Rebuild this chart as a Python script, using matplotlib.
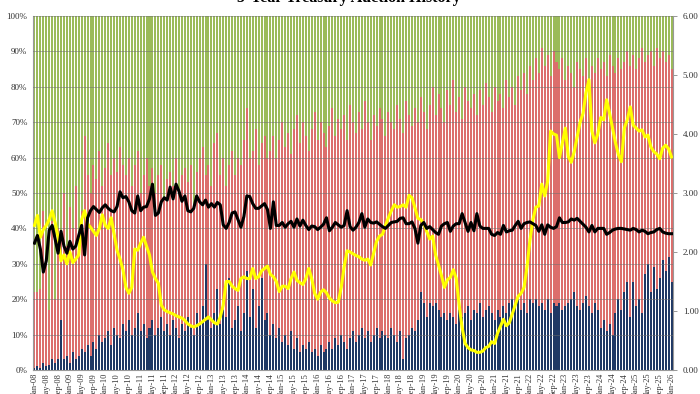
import numpy as np
import matplotlib
matplotlib.use("Agg")
import matplotlib.pyplot as plt

# monthly 5y auctions, Jan-08 onwards
tick_labels = [
    "Jan-08", "May-08", "Sep-08", "Jan-09", "May-09", "Sep-09",
    "Jan-10", "May-10", "Sep-10", "Jan-11", "May-11", "Sep-11",
    "Jan-12", "May-12", "Sep-12", "Jan-13", "May-13", "Sep-13",
    "Jan-14", "May-14", "Sep-14", "Jan-15", "May-15", "Sep-15",
    "Jan-16", "May-16", "Sep-16", "Jan-17", "May-17", "Sep-17",
    "Jan-18", "May-18", "Sep-18", "Jan-19", "May-19", "Sep-19",
    "Jan-20", "May-20", "Sep-20", "Jan-21", "May-21", "Sep-21",
    "Jan-22", "May-22", "Sep-22", "Jan-23", "May-23", "Sep-23",
    "Jan-24", "May-24", "Sep-24", "Jan-25", "May-25", "Sep-25",
    "Jan-26",
]

# % awarded to direct bidders
direct = [
    0.5, 1, 0.5, 2, 1, 1.5, 3, 2, 3, 14,
    3, 4, 2, 5, 3, 4, 6, 5, 7, 4,
    8, 6, 10, 8, 9, 11, 7, 12, 10, 9,
    13, 11, 14, 10, 12, 16, 11, 13, 9, 12,
    14, 10, 12, 15, 11, 13, 10, 14, 12, 9,
    13, 11, 15, 12, 10, 16, 13, 18, 30, 14,
    12, 16, 23, 13, 17, 15, 26, 12, 14, 18,
    11, 16, 28, 15, 23, 12, 18, 26, 14, 16,
    10, 13, 9, 12, 8, 10, 7, 11, 6, 9,
    5, 7, 6, 8, 5, 6, 4, 7, 5, 6,
    8, 6, 9, 7, 10, 8, 6, 9, 11, 8,
    10, 12, 9, 11, 8, 10, 12, 9, 11, 10,
    9, 12, 10, 8, 11, 3, 9, 10, 12, 11,
    14, 22, 19, 15, 19, 18, 19, 17, 15, 16,
    14, 16, 15, 13, 17, 15, 16, 18, 14, 17,
    16, 19, 15, 17, 18, 16, 14, 17, 15, 18,
    16, 19, 20, 18, 20, 17, 19, 16, 20, 19,
    20, 18, 19, 17, 20, 16, 19, 18, 19, 17,
    18, 19, 20, 22, 18, 17, 19, 21, 18, 16,
    19, 17, 12, 14, 11, 13, 10, 16, 20, 17,
    22, 25, 15, 25, 18, 20, 16, 27, 30, 22,
    29, 23, 26, 31, 28, 32, 25,
]

# direct + indirect (top of the red stack), %
direct_plus_indirect = [
    22, 22, 23, 45, 30, 17, 42, 20, 40, 38,
    50, 35, 46, 40, 52, 38, 45, 66, 55, 50,
    58, 54, 62, 52, 57, 64, 55, 60, 56, 63,
    58, 55, 60, 52, 58, 62, 50, 55, 60, 52,
    57, 50, 55, 58, 48, 54, 56, 52, 60, 50,
    55, 57, 53, 58, 46, 56, 60, 63, 55, 58,
    52, 64, 67, 55, 60, 52, 58, 62, 55, 60,
    58, 65, 74, 60, 62, 68, 58, 64, 66, 60,
    62, 66, 60, 65, 70, 63, 67, 61, 68, 72,
    64, 70, 66, 62, 68, 73, 65, 70, 67, 63,
    69, 74, 66, 71, 68, 72, 65, 75, 70, 67,
    73, 68, 76, 70, 65, 72, 69, 74, 71, 66,
    73, 70, 68, 75, 71, 67, 76, 72, 69, 74,
    70, 77, 73, 68, 75, 80, 72, 78, 74, 70,
    79, 75, 82, 73, 77, 71, 80, 76, 74, 78,
    72, 79, 75, 81, 77, 73, 80, 76, 78, 74,
    82, 77, 80, 75, 83, 79, 84, 78, 86, 82,
    88, 84, 91, 86, 89, 83, 90, 87, 85, 88,
    82, 86, 84, 80, 87, 85, 83, 88, 81, 86,
    84, 88, 85, 87, 83, 89, 86, 84, 88, 85,
    87, 90, 86, 89, 85, 88, 91, 87, 89, 90,
    86, 91, 88, 90, 87, 89, 85,
]

# high yield, %
high_yield = [
    2.45, 2.62, 2.25, 2.38, 2.45, 2.55, 2.70, 2.50, 2.25, 1.85,
    1.95, 1.80, 2.00, 1.82, 1.88, 1.95, 2.55, 2.70, 2.48, 2.42,
    2.35, 2.28, 2.40, 2.63, 2.45, 2.40, 2.58, 2.30, 2.03, 1.88,
    1.70, 1.40, 1.30, 1.40, 2.05, 2.03, 2.15, 2.25, 2.10, 1.95,
    1.66, 1.55, 1.47, 1.10, 1.02, 0.99, 0.97, 0.95, 0.92, 0.90,
    0.88, 0.84, 0.78, 0.75, 0.73, 0.75, 0.78, 0.82, 0.86, 0.90,
    0.85, 0.80, 0.78, 0.90, 1.10, 1.50, 1.50, 1.42, 1.38, 1.35,
    1.55, 1.58, 1.55, 1.55, 1.72, 1.55, 1.58, 1.68, 1.72, 1.76,
    1.62, 1.58, 1.50, 1.33, 1.42, 1.42, 1.38, 1.55, 1.66, 1.52,
    1.48, 1.45, 1.55, 1.72, 1.55, 1.30, 1.20, 1.32, 1.36, 1.31,
    1.22, 1.17, 1.14, 1.15, 1.40, 1.75, 2.02, 2.00, 1.97, 1.94,
    1.92, 1.88, 1.86, 1.88, 1.78, 1.98, 2.18, 2.27, 2.30, 2.45,
    2.58, 2.70, 2.80, 2.76, 2.77, 2.80, 2.76, 2.96, 2.92, 2.75,
    2.57, 2.55, 2.48, 2.35, 2.22, 2.27, 1.95, 1.78, 1.60, 1.40,
    1.53, 1.57, 1.70, 1.55, 1.10, 0.72, 0.45, 0.38, 0.34, 0.33,
    0.30, 0.30, 0.32, 0.38, 0.40, 0.48, 0.45, 0.62, 0.74, 0.86,
    0.75, 0.80, 0.95, 1.10, 1.25, 1.30, 1.40, 1.75, 2.20, 2.55,
    2.76, 2.78, 3.15, 2.95, 3.20, 4.05, 4.00, 3.98, 3.60, 3.85,
    4.10, 3.62, 3.52, 3.70, 3.95, 4.20, 4.35, 4.70, 4.92, 4.05,
    3.85, 4.00, 4.28, 4.24, 4.58, 4.35, 4.10, 3.85, 3.65, 3.53,
    4.10, 4.24, 4.46, 4.15, 4.10, 4.05, 4.07, 3.95, 3.98, 3.78,
    3.70, 3.66, 3.58, 3.76, 3.81, 3.75, 3.61,
]

# bid to cover
bid_to_cover = [
    2.15, 2.28, 2.05, 1.66, 1.85, 2.37, 2.45, 2.22, 1.98, 2.35,
    2.10, 1.98, 2.18, 2.05, 2.10, 2.28, 2.45, 1.95, 2.58, 2.70,
    2.77, 2.72, 2.67, 2.75, 2.80, 2.74, 2.70, 2.68, 2.77, 3.02,
    2.92, 2.94, 2.85, 2.70, 2.66, 2.95, 2.70, 2.76, 2.77, 2.90,
    3.15, 2.62, 2.66, 2.85, 2.92, 2.88, 3.10, 2.90, 3.15, 3.03,
    2.86, 2.95, 2.70, 2.68, 2.74, 2.95, 2.85, 2.80, 2.88, 2.76,
    2.82, 2.76, 2.84, 2.80, 2.46, 2.40, 2.50, 2.66, 2.68, 2.55,
    2.42, 2.60, 2.95, 2.94, 2.82, 2.74, 2.74, 2.78, 2.82, 2.72,
    2.40, 2.85, 2.45, 2.45, 2.50, 2.42, 2.48, 2.52, 2.42, 2.56,
    2.44, 2.54, 2.45, 2.38, 2.44, 2.43, 2.38, 2.42, 2.47, 2.58,
    2.36, 2.42, 2.50, 2.46, 2.42, 2.45, 2.70, 2.43, 2.37, 2.42,
    2.50, 2.65, 2.42, 2.56, 2.50, 2.49, 2.51, 2.47, 2.43, 2.40,
    2.45, 2.50, 2.51, 2.52, 2.57, 2.58, 2.48, 2.48, 2.51, 2.40,
    2.15, 2.45, 2.50, 2.40, 2.43, 2.38, 2.33, 2.30, 2.44, 2.48,
    2.50, 2.35, 2.44, 2.48, 2.48, 2.65, 2.50, 2.35, 2.50, 2.36,
    2.65, 2.44, 2.40, 2.40, 2.40, 2.30, 2.28, 2.33, 2.30, 2.45,
    2.34, 2.36, 2.37, 2.45, 2.52, 2.40, 2.48, 2.50, 2.51, 2.48,
    2.45, 2.35, 2.46, 2.30, 2.46, 2.42, 2.40, 2.43, 2.58, 2.50,
    2.50, 2.51, 2.56, 2.54, 2.57, 2.52, 2.47, 2.42, 2.34, 2.45,
    2.34, 2.40, 2.40, 2.40, 2.30, 2.33, 2.37, 2.39, 2.40, 2.40,
    2.39, 2.38, 2.37, 2.40, 2.38, 2.34, 2.37, 2.35, 2.31, 2.33,
    2.34, 2.38, 2.40, 2.34, 2.32, 2.31, 2.31,
]

blue = "#1F3864"
red = "#DC6E6C"
green = "#9BBB59"
serif = "Liberation Serif"

d = np.array(direct, dtype=float)
top = np.array(direct_plus_indirect, dtype=float)
indirect = top - d
dealers = 100 - top
x = np.arange(len(d))

fig = plt.figure(figsize=(7, 3.94), dpi=100)
ax = fig.add_axes([33 / 700, 24 / 394, 640 / 700, 354 / 394])

w = 0.68
ax.bar(x, d, w, color=blue, linewidth=0, zorder=2)
ax.bar(x, indirect, w, bottom=d, color=red, linewidth=0, zorder=2)
ax.bar(x, dealers, w, bottom=top, color=green, linewidth=0, zorder=2)

ax.set_xlim(-0.5, len(d) - 0.5)
ax.set_ylim(0, 100)
ax.set_yticks(np.arange(0, 101, 10))
ax.set_yticklabels(["%d%%" % v for v in range(0, 101, 10)])
for yv in range(10, 101, 10):
    ax.axhline(yv, color="#6E6E6E", lw=0.6, alpha=0.6, zorder=3)

ax.set_xticks(np.arange(0, len(d), 4))
ax.set_xticklabels(tick_labels, rotation=90)
ax.tick_params(axis="x", length=0, pad=2, labelsize=6, labelcolor="#333333")
ax.tick_params(axis="y", length=0, pad=4, labelsize=6.5, labelcolor="#333333")
for lab in ax.get_xticklabels() + ax.get_yticklabels():
    lab.set_fontfamily(serif)

for s in ["top", "right"]:
    ax.spines[s].set_visible(False)
ax.spines["left"].set_color("#999999")
ax.spines["bottom"].set_color("#999999")

ax2 = ax.twinx()
ax2.plot(x, high_yield, color="#FFFF00", lw=2.2, zorder=5)
ax2.plot(x, bid_to_cover, color="black", lw=2.2, zorder=6)
ax2.set_ylim(0, 6)
ax2.set_yticks(np.arange(0, 7, 1))
ax2.set_yticklabels(["%.2f" % v for v in range(7)])
ax2.tick_params(axis="y", length=3, width=0.6, color="#888888", pad=4,
                labelsize=6.5, labelcolor="#333333")
for lab in ax2.get_yticklabels():
    lab.set_fontfamily(serif)
for s in ["top", "left", "bottom"]:
    ax2.spines[s].set_visible(False)
ax2.spines["right"].set_color("#999999")

fig.text(0.499, 1.006, "5-Year Treasury Auction History", ha="center", va="center",
         fontsize=11.5, fontweight="bold", family=serif)

fig.savefig("out.png", dpi=100)
